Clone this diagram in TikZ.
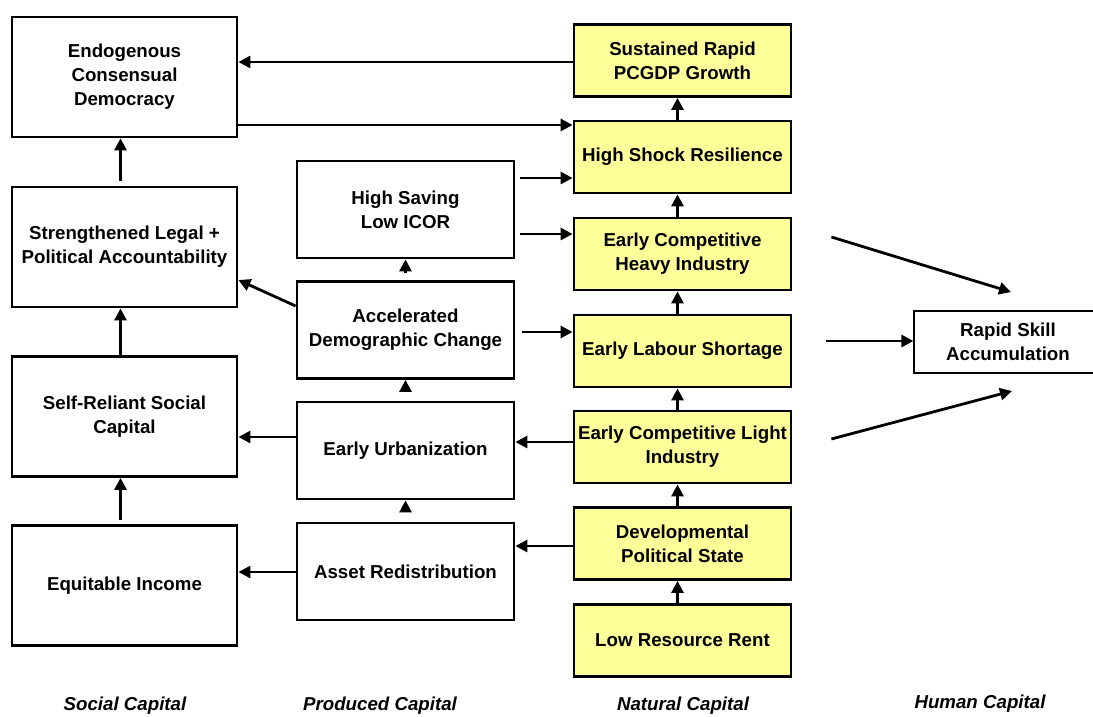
\documentclass[tikz,border=0pt]{standalone}
\usepackage{fontspec}
\setmainfont{Liberation Sans}
\usetikzlibrary{arrows.meta}
\definecolor{natyellow}{RGB}{255,255,153}
\newcommand{\boxfont}{\fontsize{18.7}{24}\selectfont\bfseries}
\tikzset{
  socbox/.style={draw, line width=2.8pt, minimum width=225pt, minimum height=120pt, align=center, inner sep=1pt, font=\boxfont},
  prodbox/.style={draw, line width=2.8pt, minimum width=217pt, minimum height=97pt, align=center, inner sep=1pt, font=\boxfont},
  natbox/.style={draw, fill=natyellow, line width=2.8pt, minimum width=217pt, minimum height=72pt, align=center, inner sep=1pt, font=\boxfont},
  humbox/.style={draw, line width=1.2pt, minimum width=188pt, minimum height=62pt, align=center, inner sep=1pt, font=\boxfont},
  arr/.style={-{Triangle[length=12pt,width=12pt]}, line width=2.8pt},
  colname/.style={font=\boxfont\itshape},
}

\begin{document}
\begin{tikzpicture}[x=1pt, y=-1pt]
  \useasboundingbox (0,0) rectangle (1093,716);

  % Social capital
  \node[socbox] (demo)   at (124.5,77)  {Endogenous\\Consensual\\Democracy};
  \node[socbox] (legal)  at (124.5,247) {Strengthened Legal +\\Political Accountability};
  \node[socbox] (social) at (124.5,416.5) {Self-Reliant Social\\Capital};
  \node[socbox] (income) at (124.5,585.5) {Equitable Income};

  % Produced capital
  \node[prodbox] (saving) at (405.5,209.5) {High Saving\\Low ICOR};
  \node[prodbox] (demog)  at (405.5,330)   {Accelerated\\Demographic Change};
  \node[prodbox] (urban)  at (405.5,450.5) {Early Urbanization};
  \node[prodbox] (asset)  at (405.5,571.5) {Asset Redistribution};

  % Natural capital
  \node[natbox] (growth) at (682.5,60.5)  {Sustained Rapid\\PCGDP Growth};
  \node[natbox] (shock)  at (682.5,157)   {High Shock Resilience};
  \node[natbox] (heavy)  at (682.5,254)   {Early Competitive\\Heavy Industry};
  \node[natbox] (labour) at (682.5,351)   {Early Labour Shortage};
  \node[natbox] (light)  at (682.5,447)   {Early Competitive Light\\Industry};
  \node[natbox] (state)  at (682.5,543.5) {Developmental\\Political State};
  \node[natbox] (rent)   at (682.5,640.5) {Low Resource Rent};

  % Human capital
  \node[humbox] (skill) at (1008,342) {Rapid Skill\\Accumulation};
  \coordinate (skilltop) at (1011,292);
  \coordinate (skillbot) at (1012,391);

  % Column names
  \node[colname] (socname)  at (125,706) {Social Capital};
  \node[colname] (prodname) at (380,706) {Produced Capital};
  \node[colname] (natname)  at (683,706) {Natural Capital};
  \node[colname] (humname)  at (980,704) {Human Capital};

  % Social column
  \draw[arr, shorten <=4pt] ([xshift=-4]income.north) -- ([xshift=-4]social.south);
  \draw[arr] ([xshift=-4]social.north) -- ([xshift=-4]legal.south);
  \draw[arr, shorten <=5pt] ([xshift=-4]legal.north) -- ([xshift=-4]demo.south);

  % Produced column
  \draw[arr, shorten <=12pt] (asset.north) -- (urban.south);
  \draw[arr, shorten <=11pt] (urban.north) -- (demog.south);
  \draw[arr, shorten <=7pt] (demog.north) -- (saving.south);

  % Natural column
  \draw[arr] ([xshift=-5]rent.north) -- ([xshift=-5]state.south);
  \draw[arr] ([xshift=-5]state.north) -- ([xshift=-5]light.south);
  \draw[arr] ([xshift=-5]light.north) -- ([xshift=-5]labour.south);
  \draw[arr] ([xshift=-5]labour.north) -- ([xshift=-5]heavy.south);
  \draw[arr] ([xshift=-5]heavy.north) -- ([xshift=-5]shock.south);
  \draw[arr] ([xshift=-5]shock.north) -- ([xshift=-5]growth.south);

  % Across columns
  \draw[arr] (growth.west |- 0,62) -- (demo.east |- 0,62);
  \draw[arr] (demo.east |- 0,125) -- (shock.west |- 0,125);
  \draw[arr, shorten <=5pt] (saving.east |- 0,178) -- (shock.west |- 0,178);
  \draw[arr, shorten <=5pt] (saving.east |- 0,234) -- (heavy.west |- 0,234);
  \draw[arr, shorten <=7pt] (demog.east |- 0,332) -- (labour.west |- 0,332);
  \draw[arr] (demog.west |- 0,306) -- (legal.east |- 0,280);
  \draw[arr] (light.west |- 0,442) -- (urban.east |- 0,442);
  \draw[arr] (urban.west |- 0,437) -- (social.east |- 0,437);
  \draw[arr] (state.west |- 0,546) -- (asset.east |- 0,546);
  \draw[arr] (asset.west |- 0,572) -- (income.east |- 0,572);

  % Into human capital
  \draw[arr] ([shift={(39,-17)}]heavy.east) -- (skilltop);
  \draw[arr, shorten <=34pt] (labour.east |- 0,341) -- (skill.west |- 0,341);
  \draw[arr] ([shift={(39,-8)}]light.east) -- (skillbot);
\end{tikzpicture}
\end{document}
